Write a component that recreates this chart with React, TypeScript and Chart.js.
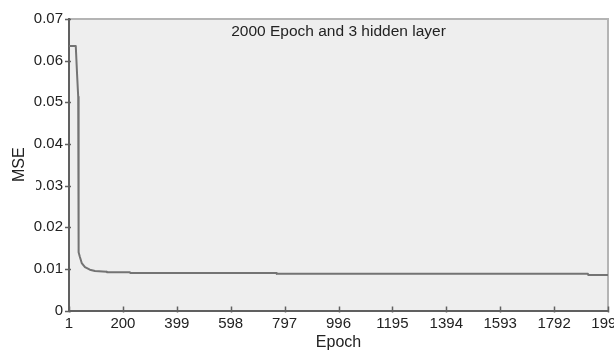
import React, { useEffect, useRef } from "react";
import { Chart, registerables } from "chart.js";

Chart.register(...registerables);

const epochs = [1, 26, 31, 35, 36, 37, 41, 48, 60, 78, 97, 140, 141, 226, 227, 767, 768, 1917, 1918, 1991];
const mse = [0.0635, 0.0635, 0.0565, 0.0513, 0.025, 0.014, 0.0129, 0.0114, 0.0104, 0.0098, 0.0095, 0.0093, 0.0092, 0.0092, 0.009, 0.009, 0.0088, 0.0088, 0.0085, 0.0085];
const xTickValues = [1, 200, 399, 598, 797, 996, 1195, 1394, 1593, 1792, 1991];
const yTickValues = [0, 0.01, 0.02, 0.03, 0.04, 0.05, 0.06, 0.07];
const chartTitle = "2000 Epoch and 3 hidden layer";
const xTitle = "Epoch";
const yTitle = "MSE";

const FONT = "'Liberation Sans', Arial, sans-serif";

const decor = {
  id: "decor",
  beforeDraw(chart: any) {
    const { ctx, chartArea: a } = chart;
    ctx.save();
    ctx.fillStyle = "#ffffff";
    ctx.fillRect(0, 0, chart.width, chart.height);
    ctx.fillStyle = "#eeeeee";
    ctx.fillRect(a.left, a.top, a.right - a.left, a.bottom - a.top);
    ctx.strokeStyle = "#b4b4b4";
    ctx.lineWidth = 2;
    ctx.beginPath();
    ctx.moveTo(a.left, a.top);
    ctx.lineTo(a.right, a.top);
    ctx.lineTo(a.right, a.bottom);
    ctx.stroke();
    ctx.restore();
  },
  afterDraw(chart: any) {
    const { ctx, chartArea: a } = chart;
    const xs = chart.scales.x;
    const ys = chart.scales.y;
    ctx.save();
    ctx.strokeStyle = "#606060";
    ctx.lineWidth = 1.5;
    ctx.beginPath();
    xs.ticks.forEach((t: any) => {
      const px = Math.round(xs.getPixelForValue(t.value)) + 0.5;
      ctx.moveTo(px, a.bottom - 4);
      ctx.lineTo(px, a.bottom + 2);
    });
    ys.ticks.forEach((t: any) => {
      const py = Math.round(ys.getPixelForValue(t.value)) + 0.5;
      ctx.moveTo(a.left - 4, py);
      ctx.lineTo(a.left + 2, py);
    });
    ctx.stroke();

    ctx.fillStyle = "#222222";
    ctx.font = `15.5px ${FONT}`;
    ctx.textAlign = "center";
    ctx.textBaseline = "middle";
    ctx.fillText(chartTitle, (a.left + a.right) / 2, 32);

    // y title with white box (covers part of a tick label as in reference)
    ctx.fillStyle = "#ffffff";
    ctx.fillRect(6, 153, 30, 40);
    ctx.translate(20, (a.top + a.bottom) / 2);
    ctx.rotate(-Math.PI / 2);
    ctx.fillStyle = "#222222";
    ctx.font = `16px ${FONT}`;
    ctx.fillText(yTitle, 0, 0);
    ctx.restore();
  },
};

export default function App() {
  const ref = useRef<HTMLCanvasElement>(null);
  useEffect(() => {
    document.body.style.margin = "0";
    const chart = new Chart(ref.current!, {
      type: "line",
      data: {
        datasets: [
          {
            data: epochs.map((e, i) => ({ x: e, y: mse[i] })),
            borderColor: "#737373",
            borderWidth: 2,
            borderJoinStyle: "round",
            pointRadius: 0,
            tension: 0,
            fill: false,
          },
        ],
      },
      options: {
        animation: false,
        responsive: false,
        layout: { padding: { top: 19, right: 6, left: 0, bottom: 0 } },
        plugins: { legend: { display: false }, tooltip: { enabled: false } },
        scales: {
          x: {
            type: "linear",
            min: 1,
            max: 1991,
            afterBuildTicks: (s: any) => {
              s.ticks = xTickValues.map((v) => ({ value: v }));
            },
            afterFit: (s: any) => {
              s.height = 39.5;
              s.paddingLeft = 0;
              s.paddingRight = 0;
            },
            grid: { display: false, drawTicks: false },
            border: { display: true, color: "#606060", width: 2 },
            ticks: {
              padding: 4,
              maxRotation: 0,
              autoSkip: false,
              color: "#222222",
              font: { family: FONT, size: 15 },
              callback: (v: any) => String(v),
            },
            title: {
              display: true,
              text: xTitle,
              color: "#222222",
              font: { family: FONT, size: 16 },
              padding: { top: 0, bottom: -2 },
            },
          },
          y: {
            type: "linear",
            min: 0,
            max: 0.07,
            afterBuildTicks: (s: any) => {
              s.ticks = yTickValues.map((v) => ({ value: v }));
            },
            afterFit: (s: any) => {
              s.width = 69;
              s.paddingTop = 0;
              s.paddingBottom = 0;
            },
            grid: { display: false, drawTicks: false },
            border: { display: true, color: "#606060", width: 2 },
            ticks: {
              padding: 6,
              autoSkip: false,
              color: "#222222",
              font: { family: FONT, size: 15 },
              callback: (v: any) => String(Math.round(v * 100) / 100),
            },
          },
        },
      },
      plugins: [decor],
    });
    return () => chart.destroy();
  }, []);
  return <canvas ref={ref} width={614} height={350} />;
}
